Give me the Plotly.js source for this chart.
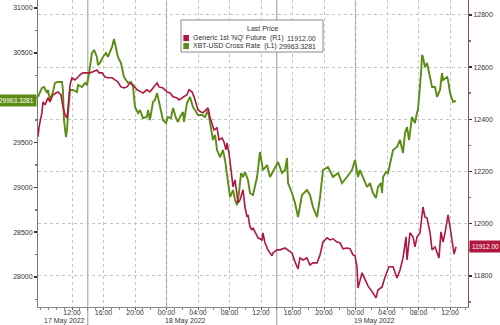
<!DOCTYPE html>
<html>
<head>
<meta charset="utf-8">
<script src="https://cdn.plot.ly/plotly-3.0.1.min.js"></script>
<style>html,body{margin:0;padding:0;background:#fff;}#chart{width:500px;height:325px;}</style>
</head>
<body>
<div id="chart"></div>
<script>
// XBT-USD Cross Rate (L1)
const btcTime = [
"2022-05-17 07:41","2022-05-17 07:56","2022-05-17 08:11","2022-05-17 08:27","2022-05-17 08:50","2022-05-17 08:57","2022-05-17 09:12","2022-05-17 09:35","2022-05-17 09:50","2022-05-17 10:13",
"2022-05-17 10:44","2022-05-17 10:51","2022-05-17 10:59","2022-05-17 11:14","2022-05-17 11:22","2022-05-17 11:30","2022-05-17 11:45","2022-05-17 12:08","2022-05-17 12:38","2022-05-17 12:46",
"2022-05-17 13:16","2022-05-17 13:39","2022-05-17 13:54","2022-05-17 14:10","2022-05-17 14:32","2022-05-17 14:48","2022-05-17 15:10","2022-05-17 15:18","2022-05-17 15:33","2022-05-17 15:56",
"2022-05-17 16:19","2022-05-17 16:34","2022-05-17 17:05","2022-05-17 17:20","2022-05-17 17:35","2022-05-17 17:50","2022-05-17 18:13","2022-05-17 18:36","2022-05-17 19:07","2022-05-17 19:30",
"2022-05-17 19:45","2022-05-17 20:00","2022-05-17 20:23","2022-05-17 20:38","2022-05-17 21:01","2022-05-17 21:31","2022-05-17 21:39","2022-05-17 21:54","2022-05-17 22:17","2022-05-17 22:32",
"2022-05-17 22:48","2022-05-17 23:10","2022-05-17 23:33","2022-05-17 23:56",
"2022-05-18 00:11","2022-05-18 00:34","2022-05-18 00:50","2022-05-18 01:12","2022-05-18 01:28","2022-05-18 01:43","2022-05-18 02:06","2022-05-18 02:13","2022-05-18 02:36","2022-05-18 02:59",
"2022-05-18 03:22","2022-05-18 03:37","2022-05-18 04:00","2022-05-18 04:30","2022-05-18 04:53","2022-05-18 05:16","2022-05-18 05:39","2022-05-18 05:54","2022-05-18 06:10","2022-05-18 06:25",
"2022-05-18 06:48","2022-05-18 07:10","2022-05-18 07:26","2022-05-18 07:41","2022-05-18 08:04","2022-05-18 08:27","2022-05-18 08:42","2022-05-18 08:57","2022-05-18 09:12","2022-05-18 09:28",
"2022-05-18 09:43","2022-05-18 09:58","2022-05-18 10:21","2022-05-18 10:36","2022-05-18 10:59","2022-05-18 11:30","2022-05-18 11:52","2022-05-18 12:15","2022-05-18 12:46","2022-05-18 13:09",
"2022-05-18 13:31","2022-05-18 14:10","2022-05-18 14:40","2022-05-18 15:03","2022-05-18 15:18","2022-05-18 15:26","2022-05-18 15:56","2022-05-18 16:19","2022-05-18 16:42","2022-05-18 17:12",
"2022-05-18 17:50","2022-05-18 18:13","2022-05-18 18:36","2022-05-18 19:07","2022-05-18 19:30","2022-05-18 19:52","2022-05-18 20:30","2022-05-18 21:09","2022-05-18 21:47","2022-05-18 22:17",
"2022-05-18 22:55","2022-05-18 23:33","2022-05-18 23:56",
"2022-05-19 00:19","2022-05-19 00:34","2022-05-19 00:57","2022-05-19 01:28","2022-05-19 01:50","2022-05-19 02:13","2022-05-19 02:36","2022-05-19 02:51","2022-05-19 03:14","2022-05-19 03:22",
"2022-05-19 03:30","2022-05-19 03:52","2022-05-19 04:08","2022-05-19 04:23","2022-05-19 04:46","2022-05-19 05:16","2022-05-19 05:39","2022-05-19 06:02","2022-05-19 06:17","2022-05-19 06:32",
"2022-05-19 06:48","2022-05-19 07:10","2022-05-19 07:33","2022-05-19 07:49","2022-05-19 07:56","2022-05-19 08:19","2022-05-19 08:27","2022-05-19 08:34","2022-05-19 08:49","2022-05-19 09:05",
"2022-05-19 09:28","2022-05-19 09:43","2022-05-19 10:06","2022-05-19 10:21","2022-05-19 10:44","2022-05-19 10:59","2022-05-19 11:07","2022-05-19 11:37","2022-05-19 11:45","2022-05-19 12:00",
"2022-05-19 12:23","2022-05-19 12:46"
];
const btcValue = [
30008,30052,30108,30119,30052,30086,29974,30063,30164,30175,
30175,30086,29751,29561,29639,29829,30086,30086,30063,30141,
30119,30164,30141,30275,30498,30532,30454,30364,30387,30454,
30498,30454,30565,30654,30554,30454,30387,30231,30164,30175,
30119,29896,29829,29862,29773,29784,29862,29751,29952,29974,
30052,29918,29751,29718,
29784,29773,29885,29773,29729,29784,29840,29729,29941,30008,
29896,29862,29807,29807,29784,29862,29673,29528,29584,29416,
29338,29416,29305,29115,28892,28970,28859,28803,28937,29160,
29115,29171,29082,28937,28915,29115,29394,29193,29249,29115,
29171,29283,29160,29193,29327,29048,28937,28825,28669,28915,
28970,28915,28781,28669,28892,29193,29227,29115,29160,29048,
29115,29193,29305,
29115,29193,29115,29004,29048,28937,28881,29004,29048,28937,
29115,29171,29160,29271,29416,29450,29528,29383,29606,29673,
29528,29784,29718,29840,29862,30275,30476,30454,30342,30387,
30231,30119,30119,30008,30086,30275,30197,30231,30197,30052,
29952,29963.3281
];

// Generic 1st 'NQ' Future (R1)
const nqTime = [
"2022-05-17 07:41","2022-05-17 07:49","2022-05-17 08:11","2022-05-17 08:19","2022-05-17 08:34","2022-05-17 08:57","2022-05-17 09:12","2022-05-17 09:35","2022-05-17 09:58","2022-05-17 10:13",
"2022-05-17 10:36","2022-05-17 10:51","2022-05-17 11:07","2022-05-17 11:22","2022-05-17 11:30","2022-05-17 11:45","2022-05-17 12:00","2022-05-17 12:23","2022-05-17 12:46","2022-05-17 13:01",
"2022-05-17 13:24","2022-05-17 13:54","2022-05-17 14:17","2022-05-17 14:40","2022-05-17 15:10","2022-05-17 15:26","2022-05-17 15:49","2022-05-17 16:11","2022-05-17 16:34","2022-05-17 17:05",
"2022-05-17 17:28","2022-05-17 17:50","2022-05-17 18:13","2022-05-17 18:36","2022-05-17 18:59","2022-05-17 19:22","2022-05-17 19:45","2022-05-17 20:15","2022-05-17 20:46","2022-05-17 21:01",
"2022-05-17 21:31","2022-05-17 21:54","2022-05-17 22:17","2022-05-17 22:48","2022-05-17 23:03","2022-05-17 23:33",
"2022-05-18 00:04","2022-05-18 00:27","2022-05-18 00:50","2022-05-18 01:20","2022-05-18 01:35","2022-05-18 02:06","2022-05-18 02:36","2022-05-18 02:51","2022-05-18 03:14","2022-05-18 03:30",
"2022-05-18 03:45","2022-05-18 04:00","2022-05-18 04:23","2022-05-18 04:38","2022-05-18 05:01","2022-05-18 05:16","2022-05-18 05:31","2022-05-18 05:47","2022-05-18 06:02","2022-05-18 06:25",
"2022-05-18 06:40","2022-05-18 07:03","2022-05-18 07:18","2022-05-18 07:33","2022-05-18 07:41","2022-05-18 07:56","2022-05-18 08:19","2022-05-18 08:27","2022-05-18 08:42","2022-05-18 08:57",
"2022-05-18 09:05","2022-05-18 09:20","2022-05-18 09:43","2022-05-18 09:58","2022-05-18 10:13","2022-05-18 10:21","2022-05-18 10:36","2022-05-18 10:51","2022-05-18 10:59","2022-05-18 11:14",
"2022-05-18 11:37","2022-05-18 12:08","2022-05-18 12:15","2022-05-18 12:30","2022-05-18 12:46","2022-05-18 12:53","2022-05-18 13:24","2022-05-18 13:31","2022-05-18 14:02","2022-05-18 14:25",
"2022-05-18 15:03","2022-05-18 15:26","2022-05-18 15:56","2022-05-18 16:19","2022-05-18 16:42","2022-05-18 16:57","2022-05-18 17:20","2022-05-18 17:50","2022-05-18 18:13","2022-05-18 18:36",
"2022-05-18 19:07","2022-05-18 19:30","2022-05-18 19:52","2022-05-18 20:23","2022-05-18 20:46","2022-05-18 21:09","2022-05-18 21:39","2022-05-18 22:02","2022-05-18 22:25","2022-05-18 22:55",
"2022-05-18 23:18","2022-05-18 23:41","2022-05-18 23:56",
"2022-05-19 00:11","2022-05-19 00:19","2022-05-19 00:50","2022-05-19 01:12","2022-05-19 01:35","2022-05-19 02:13","2022-05-19 02:36","2022-05-19 02:51","2022-05-19 03:22","2022-05-19 03:45",
"2022-05-19 04:15","2022-05-19 04:46","2022-05-19 05:16","2022-05-19 05:39","2022-05-19 06:02","2022-05-19 06:25","2022-05-19 06:32","2022-05-19 06:55","2022-05-19 07:18","2022-05-19 07:33",
"2022-05-19 07:49","2022-05-19 08:11","2022-05-19 08:34","2022-05-19 08:49","2022-05-19 09:05","2022-05-19 09:28","2022-05-19 09:43","2022-05-19 10:06","2022-05-19 10:21","2022-05-19 10:36",
"2022-05-19 10:51","2022-05-19 11:07","2022-05-19 11:22","2022-05-19 11:45","2022-05-19 12:00","2022-05-19 12:15","2022-05-19 12:31","2022-05-19 12:46"
];
const nqValue = [
12333,12371,12425,12467,12455,12482,12467,12494,12501,12505,
12494,12448,12417,12405,12444,12532,12559,12551,12562,12570,
12578,12578,12578,12582,12589,12578,12578,12562,12559,12559,
12551,12543,12524,12520,12524,12539,12532,12513,12505,12501,
12513,12505,12520,12539,12524,12520,
12505,12501,12486,12482,12474,12486,12494,12513,12505,12486,
12463,12436,12428,12425,12436,12444,12409,12379,12359,12367,
12321,12329,12313,12283,12310,12271,12179,12141,12168,12122,
12080,12091,12130,12064,12026,12034,11988,11976,11984,11969,
11946,11938,11965,11927,11911,11900,11877,11888,11900,11900,
11907,11900,11888,11854,11827,11869,11861,11869,11842,11850,
11850,11881,11930,11946,11938,11942,11930,11927,11904,11907,
11904,11881,11877,
11835,11754,11812,11789,11762,11735,11716,11746,11758,11796,
11835,11835,11792,11823,11869,11950,11861,11965,11950,11911,
11950,11965,12064,12026,12022,11965,11900,11911,11888,11869,
11969,11930,11965,12034,11988,11938,11884,11912
];

const seriesNames = ["Generic 1st 'NQ' Future  (R1)", "XBT-USD Cross Rate  (L1)"];
const lastLabels = ["11912.00", "29963.3281"];
const xTickVals = [
"2022-05-17 12:00","2022-05-17 16:00","2022-05-17 20:00","2022-05-18 00:00","2022-05-18 04:00","2022-05-18 08:00",
"2022-05-18 12:00","2022-05-18 16:00","2022-05-18 20:00","2022-05-19 00:00","2022-05-19 04:00","2022-05-19 08:00","2022-05-19 12:00"
];
const xTickText = ["12:00","16:00","20:00","00:00","04:00","08:00","12:00","16:00","20:00","00:00","04:00","08:00","12:00"];
const dayLabels = ["17 May 2022", "18 May 2022", "19 May 2022"];
const dayLabelAt = ["2022-05-17 07:41", "2022-05-18 00:00", "2022-05-19 00:00"];
const solidLinesAt = ["2022-05-17 14:00", "2022-05-18 00:00", "2022-05-18 14:00", "2022-05-19 00:00"];
const leftTicks = [28000, 28500, 29000, 29500, 30000, 30500, 31000];
const leftTickText = ["28000", "28500", "29000", "29500", "", "30500", "31000"];
const rightTicks = [11800, 12000, 12200, 12400, 12600, 12800];

const RED = '#b0173f', GREEN = '#5b8c14';
const FONT = 'Liberation Sans, Arial, sans-serif';

const traces = [
  {x: btcTime, y: btcValue, type: 'scatter', mode: 'lines', yaxis: 'y',
   line: {color: GREEN, width: 1.9}, hoverinfo: 'skip', showlegend: false},
  {x: nqTime, y: nqValue, type: 'scatter', mode: 'lines', yaxis: 'y2',
   line: {color: RED, width: 1.6}, hoverinfo: 'skip', showlegend: false}
];

const shapes = [];
solidLinesAt.forEach(t => {
  const is14 = t.endsWith('14:00');
  shapes.push({type: 'line', xref: 'x', yref: 'paper', x0: t, x1: t, y0: is14 ? -0.07 : 0, y1: 1,
    line: {color: '#a8a8a8', width: 1.2}, layer: 'below'});
});
// legend box
const lx0 = 0.3326, lx1 = 0.6628, ly0 = 0.8306, ly1 = 0.9349;
shapes.push({type: 'rect', xref: 'paper', yref: 'paper', x0: lx0, x1: lx1, y0: ly0, y1: ly1,
  fillcolor: '#ffffff', line: {color: '#8a8a8a', width: 1}, layer: 'above'});
shapes.push({type: 'rect', xref: 'paper', yref: 'paper', x0: 0.338, x1: 0.351, y0: 0.866, y1: 0.886,
  fillcolor: RED, line: {width: 0}});
shapes.push({type: 'rect', xref: 'paper', yref: 'paper', x0: 0.338, x1: 0.351, y0: 0.840, y1: 0.860,
  fillcolor: GREEN, line: {width: 0}});

const annotations = [];
dayLabels.forEach((d, i) => {
  annotations.push({text: d, xref: 'x', yref: 'paper', x: dayLabelAt[i], y: 0, yanchor: 'top', xanchor: 'left',
    xshift: i === 0 ? 4 : -4, yshift: -8, showarrow: false, font: {family: FONT, size: 7, color: '#333'}});
});
annotations.push({text: 'Last Price', xref: 'paper', yref: 'paper', x: 0.521, y: 0.906, xanchor: 'center', yanchor: 'middle',
  showarrow: false, font: {family: FONT, size: 7, color: '#333'}});
annotations.push({text: seriesNames[0], xref: 'paper', yref: 'paper', x: 0.356, y: 0.876, xanchor: 'left', yanchor: 'middle',
  showarrow: false, font: {family: FONT, size: 7, color: '#333'}});
annotations.push({text: seriesNames[1], xref: 'paper', yref: 'paper', x: 0.356, y: 0.850, xanchor: 'left', yanchor: 'middle',
  showarrow: false, font: {family: FONT, size: 7, color: '#333'}});
annotations.push({text: lastLabels[0], xref: 'paper', yref: 'paper', x: 0.651, y: 0.876, xanchor: 'right', yanchor: 'middle',
  showarrow: false, font: {family: FONT, size: 7, color: '#333'}});
annotations.push({text: lastLabels[1], xref: 'paper', yref: 'paper', x: 0.651, y: 0.850, xanchor: 'right', yanchor: 'middle',
  showarrow: false, font: {family: FONT, size: 7, color: '#333'}});
// last value tags on axes
annotations.push({text: lastLabels[1], xref: 'paper', yref: 'y', x: 0, y: btcValue[btcValue.length - 1], xanchor: 'right', yanchor: 'middle',
  xshift: -1, showarrow: false, bgcolor: GREEN, borderpad: 2, font: {family: FONT, size: 6.5, color: '#fff'}});
annotations.push({text: lastLabels[0], xref: 'paper', yref: 'y2', x: 1, y: nqValue[nqValue.length - 1], xanchor: 'left', yanchor: 'middle',
  xshift: 1, showarrow: false, bgcolor: RED, borderpad: 2, font: {family: FONT, size: 6.5, color: '#fff'}});

const layout = {
  width: 500, height: 325,
  margin: {l: 38, r: 32, t: 0, b: 18},
  paper_bgcolor: '#fff', plot_bgcolor: '#fff',
  font: {family: FONT, size: 7, color: '#333'},
  showlegend: false,
  xaxis: {
    type: 'date', range: ['2022-05-17 07:41', '2022-05-19 14:17'],
    tickmode: 'array', tickvals: xTickVals, ticktext: xTickText,
    showgrid: true, gridcolor: '#c4c4c4', griddash: 'dot', gridwidth: 1,
    ticks: 'outside', ticklen: 2, tickcolor: '#555', showline: true, linecolor: '#888', linewidth: 1,
    ticklabelstandoff: -3,
    tickfont: {family: FONT, size: 7, color: '#333'}, zeroline: false,
    minor: {dtick: 3600000, ticks: 'outside', ticklen: 2, tickcolor: '#888', showgrid: false}
  },
  yaxis: {
    range: [27666, 31089], tickmode: 'array', tickvals: leftTicks, ticktext: leftTickText,
    ticks: 'outside', ticklen: 3, tickwidth: 1.5, tickcolor: '#333', showline: true, linecolor: '#777', linewidth: 1,
    showgrid: false, zeroline: false, tickfont: {family: FONT, size: 7, color: '#333'},
    minor: {dtick: 250, ticks: 'outside', ticklen: 2, tickcolor: '#777', showgrid: false}
  },
  yaxis2: {
    overlaying: 'y', side: 'right', range: [11681, 12857], tickmode: 'array', tickvals: rightTicks, ticktext: rightTicks.map(String),
    ticks: 'outside', ticklen: 3, tickwidth: 1.5, tickcolor: '#333', showline: true, linecolor: '#9a4a55', linewidth: 1,
    showgrid: true, gridcolor: '#c4c4c4', griddash: 'dot', gridwidth: 1, zeroline: false,
    tickfont: {family: FONT, size: 7, color: '#333'},
    minor: {dtick: 100, ticks: 'outside', ticklen: 2, tickcolor: '#777', showgrid: false}
  },
  shapes: shapes,
  annotations: annotations
};

Plotly.newPlot('chart', traces, layout, {staticPlot: true, displayModeBar: false});
</script>
</body>
</html>
